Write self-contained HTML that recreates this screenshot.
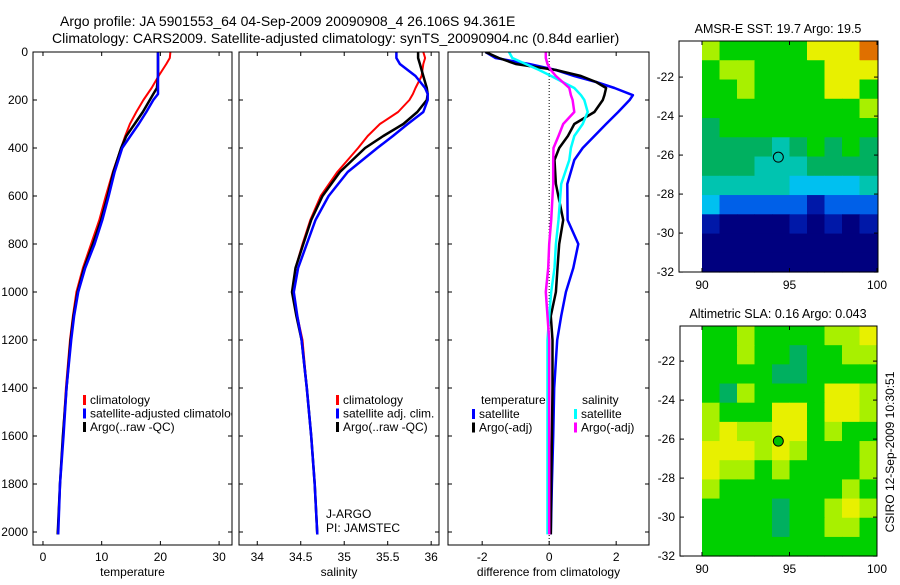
<!DOCTYPE html>
<html><head><meta charset="utf-8"><style>
body{margin:0;background:#fff;}
svg text{font-family:"Liberation Sans",sans-serif;fill:#000;}
</style></head><body>
<svg id="fig" width="900" height="580" viewBox="0 0 900 580" xmlns="http://www.w3.org/2000/svg">
<rect width="900" height="580" fill="#fff"/>
<text x="60" y="26" font-size="14">Argo profile: JA 5901553_64 04-Sep-2009 20090908_4 26.106S 94.361E</text>
<text x="52" y="43" font-size="14">Climatology: CARS2009. Satellite-adjusted climatology: synTS_20090904.nc (0.84d earlier)</text>
<text transform="translate(894,452) rotate(-90)" font-size="12" text-anchor="middle">CSIRO 12-Sep-2009 10:30:51</text>
<g id="layer"></g>
</svg>
<script>
// depth levels (m)
const depths = [0,25,50,100,150,175,200,250,300,350,400,500,600,700,800,900,1000,1100,1200,1400,1600,1800,2010];
const tempClim = [21.7,21.6,21,19.7,18.5,17.8,17.1,15.9,14.8,14,13.3,11.9,10.7,9.6,8.2,6.8,5.7,5.1,4.6,3.9,3.4,2.9,2.5];
const tempSat = [19.6,19.6,19.6,19.6,19.6,19.6,18.8,17.6,16.3,14.9,13.5,12.2,11.2,10.1,8.8,7.2,6,5.3,4.8,4,3.5,2.9,2.6];
const tempArgo = [19.6,19.6,19.6,19.6,19.4,18.8,18.2,17,15.6,14.2,13.3,12,11,9.9,8.5,7,5.9,5.2,4.7,4,3.4,2.9,2.5];
const salClim = [35.91,35.93,35.91,35.89,35.82,35.79,35.75,35.62,35.41,35.27,35.16,34.92,34.73,34.61,34.52,34.44,34.41,34.46,34.52,34.57,34.62,34.66,34.69];
const salSat = [35.6,35.6,35.64,35.82,35.93,35.96,35.96,35.91,35.73,35.56,35.38,35.04,34.82,34.67,34.57,34.47,34.42,34.46,34.51,34.57,34.62,34.66,34.69];
const salArgo = [35.85,35.85,35.87,35.91,35.95,35.96,35.95,35.84,35.68,35.45,35.24,34.95,34.75,34.62,34.53,34.44,34.40,34.45,34.51,34.57,34.62,34.66,34.69];
// difference panel depths
const diffDepths = [0,25,50,75,100,125,150,180,200,250,300,350,400,450,550,700,800,900,1000,1100,1200,1400,1600,1800,2010];
const dTempSat = [-1.9,-1.6,-0.6,0.2,0.75,1.4,1.95,2.5,2.4,2.06,1.7,1.35,1.0,0.75,0.54,0.55,0.87,0.72,0.5,0.36,0.24,0.15,0.12,0.08,0.05];
const dTempArgo = [-1.9,-1.5,-1.0,0.2,0.95,1.4,1.7,1.65,1.6,1.35,0.75,0.56,0.3,0.16,0.2,0.42,0.3,0.25,0.2,0.05,0.1,0.1,0.08,0.06,0.05];
const dSalSat = [-1.2,-1.1,-0.7,-0.3,0.06,0.4,0.75,0.95,1.05,1.15,1.0,0.75,0.65,0.6,0.36,0.28,0.2,0.16,0.06,0,-0.05,-0.05,-0.05,-0.05,-0.05];
const dSalArgo = [-0.1,-0.1,-0.05,0.05,0.2,0.4,0.6,0.65,0.7,0.75,0.42,0.28,0.13,0.12,0.12,0.06,0,-0.03,-0.1,-0.05,0,0,0,0,0];
const depthTicks = [0,200,400,600,800,1000,1200,1400,1600,1800,2000];
const tempTicks = [0,10,20,30];
const salTicks = [34,34.5,35,35.5,36];
const diffTicks = [-2,0,2];
// maps: rows from north to south, cols from 90E to 100E; values = colour class
const sstGrid = [
"7666668889","6776666888","6676666886","6666666667","5666666666","5555456565",
"5554445555","4444433334","3222221222","1000010101","0000000000","0000000000"];
const slaGrid = [
"6676666778","6676656677","6666556666","6576666887","7666886887","7877886766",
"8887876667","8776766667","7666666676","6666566787","6666566776","6666666666"];
const latTicks = [-22,-24,-26,-28,-30,-32];
const lonTicks = [90,95,100];
const floatLon = 94.361, floatLat = -26.106;
const sstTitle = "AMSR-E SST: 19.7 Argo: 19.5";
const slaTitle = "Altimetric SLA: 0.16 Argo: 0.043";

const NS="http://www.w3.org/2000/svg";
const layer=document.getElementById('layer');
function mk(tag,attrs,parent){const e=document.createElementNS(NS,tag);for(const k in attrs)e.setAttribute(k,attrs[k]);(parent||layer).appendChild(e);return e;}
const Y0=52, PXM=0.24, YB=545;
const yDepth=d=>Y0+d*PXM;

function panel(name,x0,x1,vmin,vmax,ticks,fmt,title,showY){
  const g=mk('g',{});
  
  
  const sx=v=>x0+(v-vmin)/(vmax-vmin)*(x1-x0);
  const cid='clip-'+name;
  const cp=mk('clipPath',{id:cid},g);mk('rect',{x:x0,y:Y0,width:x1-x0,height:YB-Y0},cp);
  for(const t of ticks){const x=sx(t);
    mk('line',{x1:x,x2:x,y1:YB,y2:YB-4,stroke:'#000'},g);mk('line',{x1:x,x2:x,y1:Y0,y2:Y0+4,stroke:'#000'},g);
    const tl=mk('text',{x:x,y:YB+16,'font-size':12,'text-anchor':'middle'},g);tl.textContent=fmt(t);
    
    }
  for(const d of depthTicks){const y=yDepth(d);
    mk('line',{x1:x0,x2:x0+4,y1:y,y2:y,stroke:'#000'},g);mk('line',{x1:x1,x2:x1-4,y1:y,y2:y,stroke:'#000'},g);
    if(showY){const tl=mk('text',{x:x0-5,y:y+4,'font-size':12,'text-anchor':'end'},g);tl.textContent=d;
      
      }}
  const at=mk('text',{x:(x0+x1)/2,y:576,'font-size':12,'text-anchor':'middle'},g);at.textContent=title;
  
  
  const lines=mk('g',{'clip-path':'url(#'+cid+')'},g);
  return {g,sx,lines,x0,x1};
}
function series(p,dep,vals,color,w,name){
  const pts=vals.map((v,i)=>p.sx(v).toFixed(1)+','+yDepth(dep[i]).toFixed(1)).join(' ');
  const pl=mk('polyline',{points:pts,fill:'none',stroke:color,'stroke-width':w,'stroke-linejoin':'round'},p.lines);
  
  
}
function frame(p){mk('rect',{x:p.x0,y:Y0,width:p.x1-p.x0,height:YB-Y0,fill:'none',stroke:'#000'},p.g);}
function legend(p,x,y,items){
  items.forEach((it,i)=>{const yy=y+i*13.5;
    const m=mk('rect',{x:x,y:yy-9,width:3,height:10,fill:it[1]},p.g);
    
    
    const t=mk('text',{x:x+7,y:yy,'font-size':12},p.g);t.textContent=it[0];
    
    });
}
const p1=panel('temperature-panel',33,232,-1.7,32.2,tempTicks,t=>t,'temperature',true);
series(p1,depths,tempClim,'#ff0000',2,'temp-climatology-line');
series(p1,depths,tempArgo,'#000000',2.5,'temp-argo-line');
series(p1,depths,tempSat,'#0000ff',2.5,'temp-satellite-line');
frame(p1);
const clipT=mk('clipPath',{id:'legclip'},p1.g);mk('rect',{x:33,y:380,width:199,height:60},clipT);
const lg1=mk('g',{'clip-path':'url(#legclip)'},p1.g);
legend({g:lg1},83,404,[['climatology','#ff0000'],['satellite-adjusted climatology','#0000ff'],['Argo(..raw -QC)','#000000']]);
const p2=panel('salinity-panel',239,439,33.79,36.09,salTicks,t=>t,'salinity',false);
series(p2,depths,salClim,'#ff0000',2,'sal-climatology-line');
series(p2,depths,salArgo,'#000000',2.5,'sal-argo-line');
series(p2,depths,salSat,'#0000ff',2.5,'sal-satellite-line');
frame(p2);
legend(p2,336,404,[['climatology','#ff0000'],['satellite adj. clim.','#0000ff'],['Argo(..raw -QC)','#000000']]);
const ja=mk('text',{x:326,y:518,'font-size':12},p2.g);ja.textContent='J-ARGO';


const pi=mk('text',{x:326,y:532,'font-size':12},p2.g);pi.textContent='PI: JAMSTEC';


const p3=panel('difference-panel',448,649,-3.02,2.98,diffTicks,t=>t,'difference from climatology',false);
mk('line',{x1:p3.sx(0),x2:p3.sx(0),y1:Y0,y2:YB,stroke:'#000','stroke-dasharray':'1,2'},p3.lines);
series(p3,diffDepths,dTempSat,'#0000ff',2.5,'diff-temp-satellite-line');
series(p3,diffDepths,dTempArgo,'#000000',2.5,'diff-temp-argo-line');
series(p3,diffDepths,dSalSat,'#00ffff',2.5,'diff-sal-satellite-line');
series(p3,diffDepths,dSalArgo,'#ff00ff',2.5,'diff-sal-argo-line');
frame(p3);
const lt=mk('text',{x:481,y:404,'font-size':12},p3.g);lt.textContent='temperature';


const ls=mk('text',{x:582,y:404,'font-size':12},p3.g);ls.textContent='salinity';


legend(p3,472,418,[['satellite','#0000ff'],['Argo(-adj)','#000000']]);
legend(p3,574,418,[['satellite','#00ffff'],['Argo(-adj)','#ff00ff']]);

const palette=['#00007f','#0018a8','#0060e8','#00c0f0','#00c4b0','#00b060','#00d000','#a8f000','#e8f000','#e07000'];
function map(name,bx0,bx1,by0,by1,latTop,grid,title,markerFill){
  const g=mk('g',{});
  
  
  const pxLat=19.5;
  const sy=la=>by0+(latTop-la)*pxLat;
  const sx=lo=>702+(lo-90)*17.5;
  const rows=grid.length, cols=grid[0].length;
  const cw=(sx(100)-sx(90))/cols, ch=(sy(-32)-sy(latTop))/rows;
  for(let r=0;r<rows;r++)for(let c=0;c<cols;c++){
    const cell=mk('rect',{x:sx(90)+c*cw,y:sy(latTop)+r*ch,width:cw+0.5,height:ch+0.5,fill:palette[+grid[r][c]]},g);
    
    
  }
  mk('rect',{x:bx0,y:by0,width:bx1-bx0,height:by1-by0,fill:'none',stroke:'#000'},g);
  for(const la of latTicks){const y=sy(la);
    mk('line',{x1:bx0,x2:bx0+4,y1:y,y2:y,stroke:'#000'},g);mk('line',{x1:bx1,x2:bx1-4,y1:y,y2:y,stroke:'#000'},g);
    const t=mk('text',{x:bx0-5,y:y+4,'font-size':12,'text-anchor':'end'},g);t.textContent=la;
    
    }
  for(const lo of lonTicks){const x=sx(lo);
    mk('line',{x1:x,x2:x,y1:by1,y2:by1-4,stroke:'#000'},g);mk('line',{x1:x,x2:x,y1:by0,y2:by0+4,stroke:'#000'},g);
    const t=mk('text',{x:x,y:by1+17,'font-size':12,'text-anchor':'middle'},g);t.textContent=lo;
    
    }
  const tt=mk('text',{x:778,y:by0-8,'font-size':12.5,'text-anchor':'middle'},g);tt.textContent=title;
  
  
  const mkr=mk('circle',{cx:sx(floatLon),cy:sy(floatLat),r:5,fill:markerFill,stroke:'#000'},g);
  
  
}
map('sst-map',679,878,41,272,-20.15,sstGrid,sstTitle,'none');
map('sla-map',680,877,326,556,-20.2,slaGrid,slaTitle,'#00c000');
</script>
</body></html>
